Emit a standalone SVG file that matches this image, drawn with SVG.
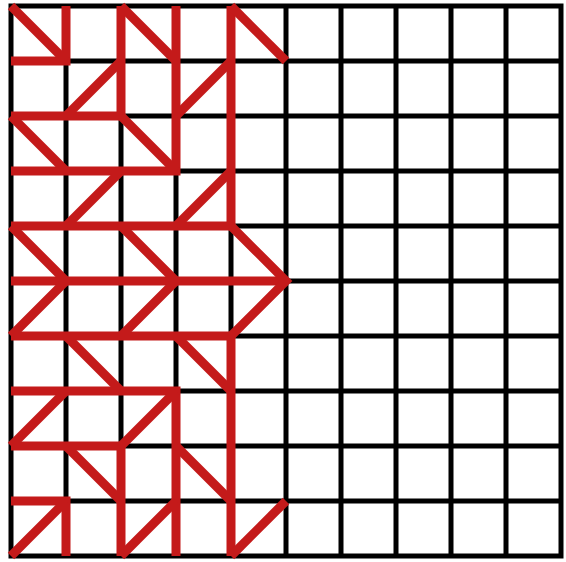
<svg xmlns="http://www.w3.org/2000/svg" width="566" height="562" viewBox="0 0 566 562">
  <style>
    .grid { stroke: #000000; stroke-width: 5; fill: none; }
    .red { stroke: #C41A1A; stroke-width: 9; fill: none; stroke-linecap: butt; stroke-linejoin: miter; }
  </style>
  <rect x="0" y="0" width="566" height="562" fill="#ffffff"/>
  <g id="grid" class="grid">
    <rect x="11" y="6" width="550" height="550"/>
    <path d="M66 6V556 M121 6V556 M176 6V556 M231 6V556 M286 6V556 M341 6V556 M396 6V556 M451 6V556 M506 6V556
             M11 61H561 M11 116H561 M11 171H561 M11 226H561 M11 281H561 M11 336H561 M11 391H561 M11 446H561 M11 501H561"/>
  </g>
  <g id="pattern" class="red">
    <!-- top rows -->
    <polyline points="11,61 66,61 66,6"/>
    <line x1="11" y1="6" x2="66" y2="61"/>
    <polyline points="11,116 121,116 121,6"/>
    <line x1="121" y1="6" x2="176" y2="61"/>
    <line x1="66" y1="116" x2="121" y2="61"/>
    <polyline points="11,171 176,171 176,6"/>
    <line x1="11" y1="116" x2="66" y2="171"/>
    <line x1="121" y1="116" x2="176" y2="171"/>
    <line x1="176" y1="116" x2="231" y2="61"/>
    <polyline points="11,226 231,226 231,6"/>
    <line x1="231" y1="6" x2="286" y2="61"/>
    <line x1="66" y1="226" x2="121" y2="171"/>
    <line x1="176" y1="226" x2="231" y2="171"/>
    <!-- middle row -->
    <line x1="11" y1="281" x2="286" y2="281"/>
    <polyline points="11,226 66,281 11,336"/>
    <polyline points="121,226 176,281 121,336"/>
    <polyline points="231,226 286,281 231,336"/>
    <!-- bottom rows -->
    <polyline points="11,336 231,336 231,556"/>
    <line x1="66" y1="336" x2="121" y2="391"/>
    <line x1="176" y1="336" x2="231" y2="391"/>
    <polyline points="11,391 176,391 176,556"/>
    <line x1="11" y1="446" x2="66" y2="391"/>
    <line x1="121" y1="446" x2="176" y2="391"/>
    <line x1="66" y1="446" x2="121" y2="501"/>
    <line x1="176" y1="446" x2="231" y2="501"/>
    <polyline points="11,446 121,446 121,556"/>
    <line x1="121" y1="556" x2="176" y2="501"/>
    <polyline points="11,501 66,501 66,556"/>
    <line x1="11" y1="556" x2="66" y2="501"/>
    <line x1="231" y1="556" x2="286" y2="501"/>
  </g>
</svg>
